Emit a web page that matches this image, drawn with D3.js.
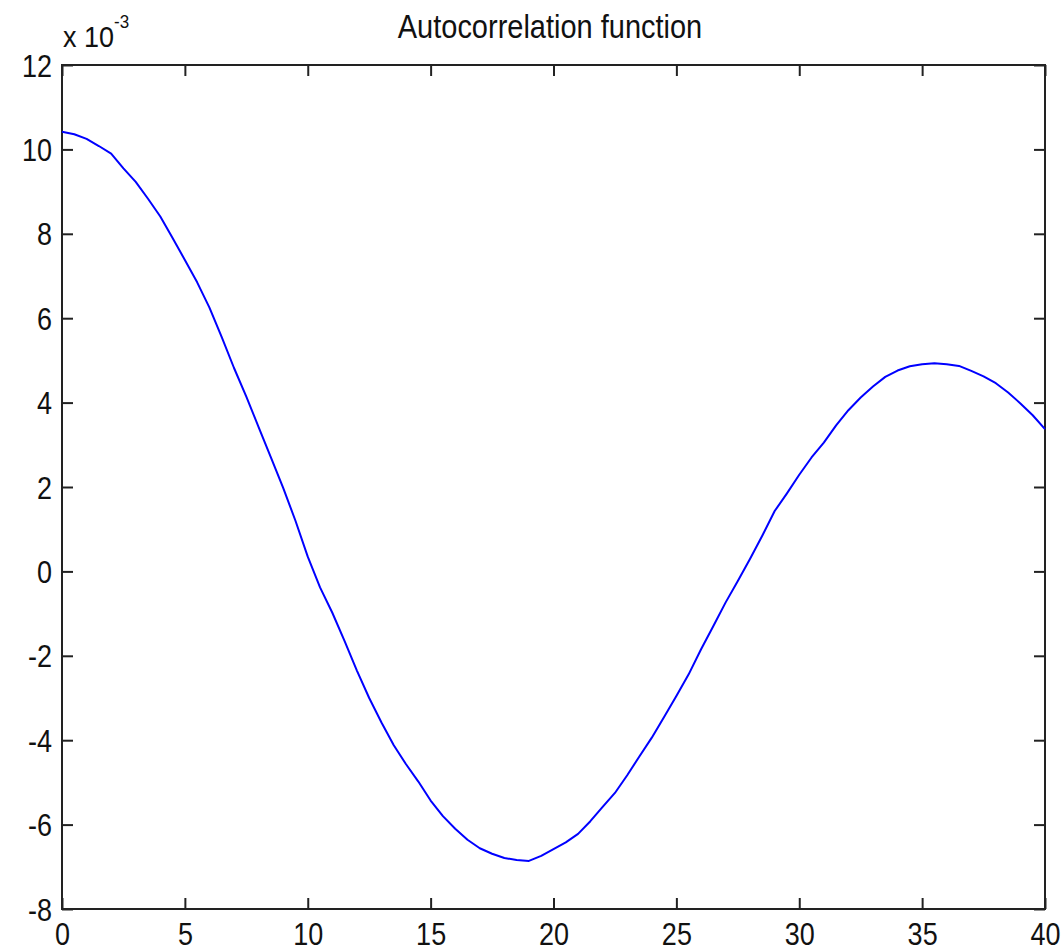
<!DOCTYPE html>
<html>
<head>
<meta charset="utf-8">
<script src="https://cdn.jsdelivr.net/npm/d3@7/dist/d3.min.js"></script>
<style>
  html, body { margin: 0; padding: 0; background: #fff; }
  svg { display: block; }
  text { font-family: "Liberation Sans", Arial, sans-serif; fill: #111; }
</style>
</head>
<body>
<svg id="chart" width="1061" height="952"></svg>
<script>
// Sample autocorrelation, lags 0..40 in steps of 0.5 (values in units of 1e-3)
const lags = d3.range(0, 40.001, 0.5);
const acf = [
  10.42, 10.36, 10.25, 10.08, 9.90, 9.55, 9.23, 8.83, 8.41, 7.90,
  7.38, 6.85, 6.25, 5.55, 4.82, 4.14, 3.42, 2.70, 1.98, 1.20,
  0.35, -0.38, -0.98, -1.65, -2.35, -3.00, -3.58, -4.12, -4.57, -4.98,
  -5.43, -5.80, -6.10, -6.36, -6.56, -6.69, -6.79, -6.84, -6.86, -6.74,
  -6.58, -6.42, -6.22, -5.92, -5.58, -5.25, -4.83, -4.38, -3.94, -3.45,
  -2.95, -2.44, -1.85, -1.30, -0.74, -0.23, 0.30, 0.85, 1.43, 1.85,
  2.29, 2.70, 3.05, 3.46, 3.82, 4.12, 4.38, 4.61, 4.76, 4.86,
  4.91, 4.93, 4.91, 4.87, 4.75, 4.62, 4.46, 4.24, 3.98, 3.70,
  3.37
];
const xTicks = [0, 5, 10, 15, 20, 25, 30, 35, 40];
const yTicks = [-8, -6, -4, -2, 0, 2, 4, 6, 8, 10, 12];
const title = "Autocorrelation function";

const frame = { left: 62, top: 65, right: 1045, bottom: 909 };
const svg = d3.select("#chart");

const x = d3.scaleLinear().domain([0, 40]).range([frame.left, frame.right]);
const y = d3.scaleLinear().domain([-8, 12]).range([frame.bottom, frame.top]);

const tickLen = 11;
const fontSize = 27;
const stretch = 1.15;   // tall, narrow lettering
const fmt = d => String(d);

// bottom axis (labels + inward ticks)
const gx = svg.append("g").attr("transform", `translate(0,${frame.bottom})`)
  .call(d3.axisBottom(x).tickValues(xTicks).tickFormat(fmt)
    .tickSizeInner(-tickLen).tickSizeOuter(0).tickPadding(12));
// top axis ticks (mirrored, no labels)
const gxt = svg.append("g").attr("transform", `translate(0,${frame.top})`)
  .call(d3.axisTop(x).tickValues(xTicks).tickSizeInner(-tickLen).tickSizeOuter(0).tickFormat(""));
// left axis
const gy = svg.append("g").attr("transform", `translate(${frame.left},0)`)
  .call(d3.axisLeft(y).tickValues(yTicks).tickFormat(fmt)
    .tickSizeInner(-tickLen).tickSizeOuter(0).tickPadding(10));
// right axis ticks
const gyr = svg.append("g").attr("transform", `translate(${frame.right},0)`)
  .call(d3.axisRight(y).tickValues(yTicks).tickSizeInner(-tickLen).tickSizeOuter(0).tickFormat(""));

[gx, gxt, gy, gyr].forEach(g => {
  g.select(".domain").remove();
  g.selectAll(".tick line").attr("stroke", "#222").attr("stroke-width", 2);
  g.selectAll(".tick text").attr("font-size", fontSize)
    .attr("font-family", "'Liberation Sans', Arial, sans-serif").attr("fill", "#111")
    .attr("transform", `scale(1,${stretch})`);
});
gy.selectAll(".tick text").attr("dy", "0.36em");

// frame box
svg.append("rect")
  .attr("x", frame.left).attr("y", frame.top)
  .attr("width", frame.right - frame.left).attr("height", frame.bottom - frame.top)
  .attr("fill", "none").attr("stroke", "#222").attr("stroke-width", 2);

// curve
const line = d3.line().x((d, i) => x(lags[i])).y(d => y(d));
svg.append("path").datum(acf)
  .attr("d", line)
  .attr("fill", "none").attr("stroke", "#0000ff").attr("stroke-width", 2)
  .attr("stroke-linejoin", "round");

// exponent label
const ex = svg.append("text").attr("transform", "translate(63,47) scale(1,1.1)")
  .attr("font-size", 27).attr("fill", "#111");
ex.append("tspan").text("x 10");
ex.append("tspan").attr("dy", -17).attr("font-size", 17).text("-3");

// title
svg.append("text").attr("transform", "translate(550,38) scale(1,1.12)")
  .attr("text-anchor", "middle").attr("font-size", 29).attr("fill", "#111").text(title);
</script>
</body>
</html>
